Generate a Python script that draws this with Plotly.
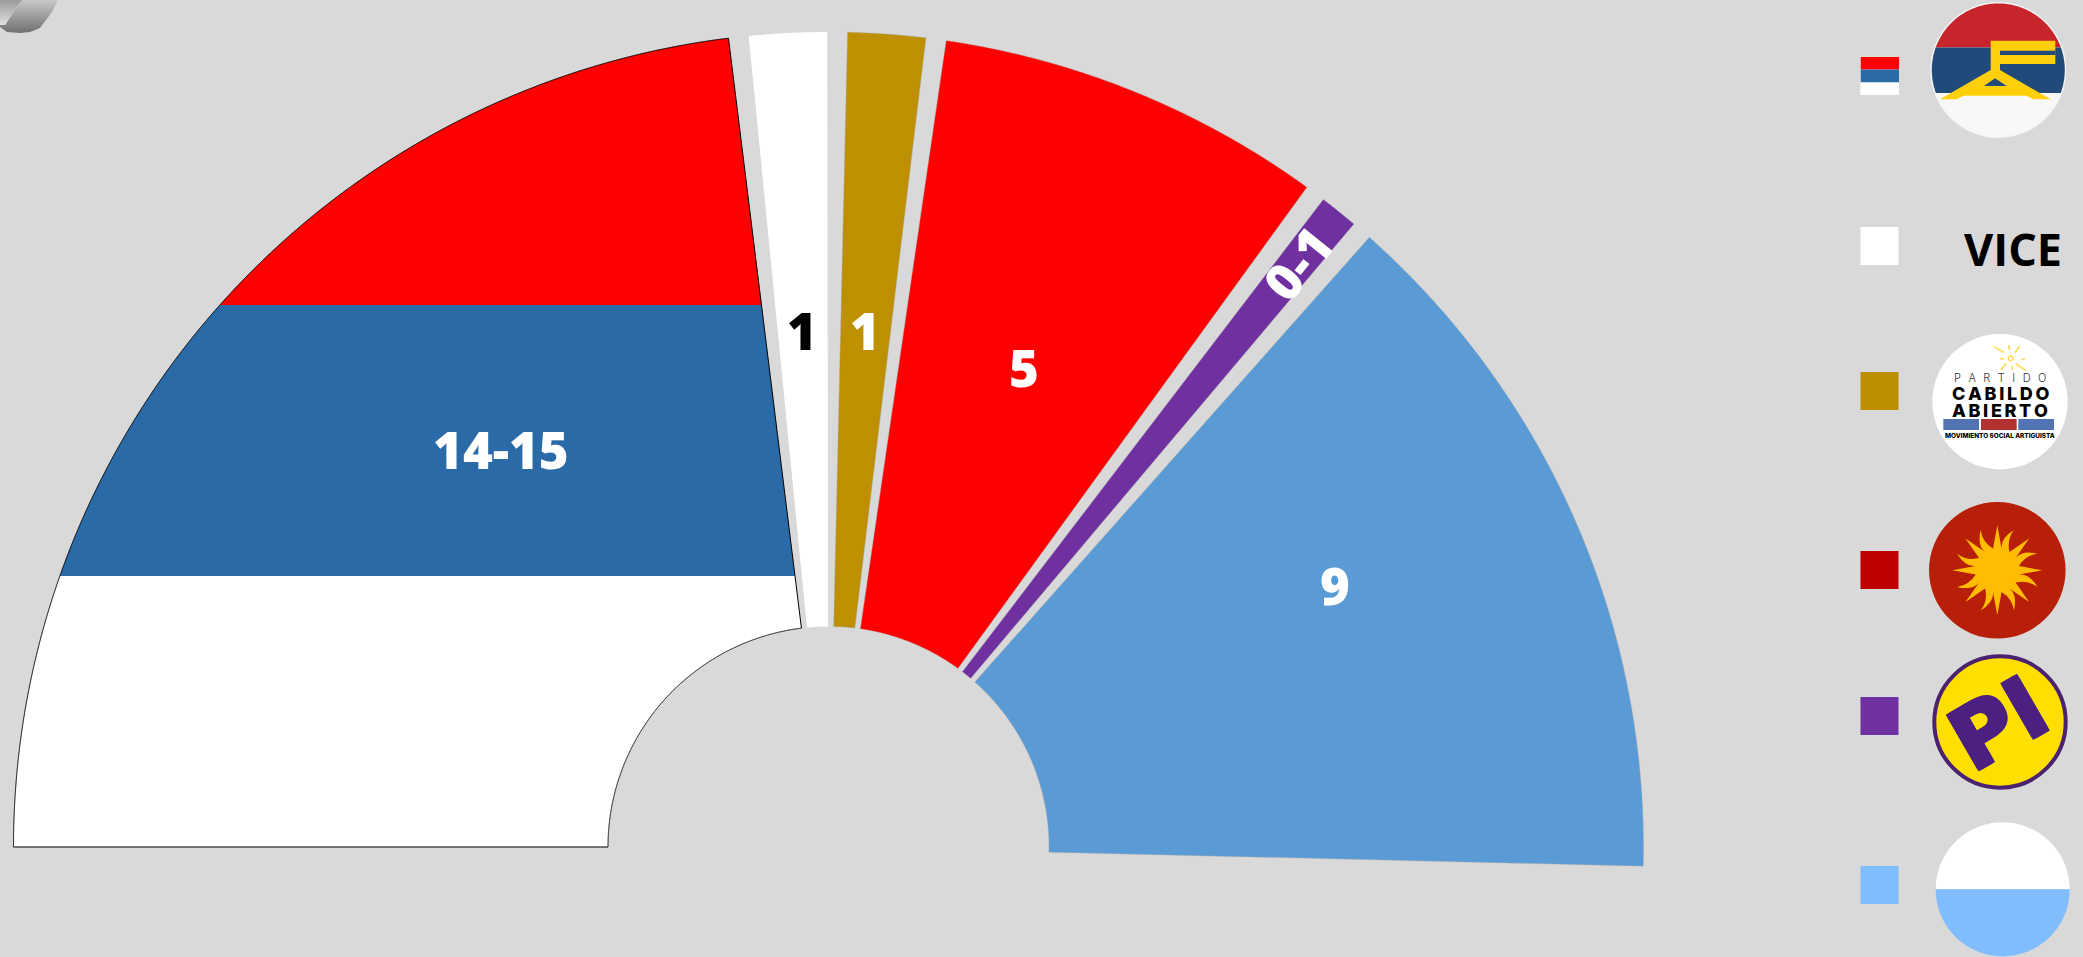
import math
import plotly.graph_objects as go

# ---------- data ----------
parties = ["Frente Amplio", "Vicepresidencia", "Cabildo Abierto", "Partido Colorado", "Partido Independiente", "Partido Nacional"]
seat_labels = ["14-15", "1", "1", "5", "0-1", "9"]
seat_spans = [15, 1, 1, 5, 0.5, 9]
wedge_colors = ["#FFFFFF", "#FFFFFF", "#BE9000", "#FF0000", "#7030A0", "#5B9BD5"]
legend_colors = ["#FFFFFF", "#FFFFFF", "#BC8F00", "#C00000", "#7030A0", "#80BDFF"]
flag_colors = ["#FFFFFF", "#2A6AA6", "#FF0000"]
label_colors = ["#FFFFFF", "#000000", "#FFFFFF", "#FFFFFF", "#FFFFFF", "#FFFFFF"]

# ---------- layout constants (pixels) ----------
W, H = 2083, 957
BG = "#D9D9D9"
CX, CY = 828.5, 847.0
R_OUT, R_IN = 815.0, 220.5
STRIPE_H = 271.0
DEG_PER_SEAT, GAP_DEG = 5.53, 1.43
LABEL_POS = [(501, 449, 0), (802, 330, 0), (865, 330, 0), (1024, 367, 0), (1297, 263, -51), (1335, 585, 0)]
SWATCH_X = 1879.5
SWATCH_Y = [76, 246, 391, 570, 716, 885]


def pt(angle, r):
    a = math.radians(angle)
    return CX - r * math.cos(a), CY - r * math.sin(a)


def wedge(a0, a1):
    n = max(8, int((a1 - a0) * 20))
    ang = [a0 + (a1 - a0) * i / n for i in range(n + 1)]
    return [pt(a, R_OUT) for a in ang] + [pt(a, R_IN) for a in reversed(ang)]


def clip(poly, y_lim, keep_above):
    out = []
    inside = (lambda p: p[1] <= y_lim) if keep_above else (lambda p: p[1] >= y_lim)
    for i, p in enumerate(poly):
        q = poly[(i + 1) % len(poly)]
        if inside(p):
            out.append(p)
        if inside(p) != inside(q):
            t = (y_lim - p[1]) / (q[1] - p[1])
            out.append((p[0] + t * (q[0] - p[0]), y_lim))
    return out


def closed(poly):
    return [p[0] for p in poly] + [poly[0][0]], [p[1] for p in poly] + [poly[0][1]]


fig = go.Figure()
start = 0.0
for i, party in enumerate(parties):
    end = start + seat_spans[i] * DEG_PER_SEAT
    poly = wedge(start, end)
    if i == 0:
        for k, col in enumerate(flag_colors):
            y_bot = CY - STRIPE_H * k
            y_top = CY - STRIPE_H * (k + 1) if k < 2 else 0
            band = clip(clip(poly, y_bot, True), y_top, False)
            xs, ys = closed(band)
            fig.add_trace(go.Scatter(x=xs, y=ys, mode="lines", fill="toself", fillcolor=col,
                                     line=dict(width=0, simplify=False), hoverinfo="text", text=party, showlegend=False))
        xs, ys = closed(poly)
        fig.add_trace(go.Scatter(x=xs, y=ys, mode="lines", line=dict(color="#000000", width=1, simplify=False),
                                 hoverinfo="skip", showlegend=False))
    else:
        xs, ys = closed(poly)
        fig.add_trace(go.Scatter(x=xs, y=ys, mode="lines", fill="toself", fillcolor=wedge_colors[i],
                                 line=dict(color="rgba(170,170,170,0.6)", width=0.7 if i != 1 else 0, simplify=False),
                                 hoverinfo="text", text=party, showlegend=False))
    start = end + GAP_DEG

# legend swatches
fig.add_trace(go.Scatter(x=[SWATCH_X] * 6, y=SWATCH_Y, mode="markers",
                         marker=dict(symbol="square", size=38, color=legend_colors, line=dict(width=0)),
                         text=parties, hoverinfo="text", showlegend=False))

# corner curl
fig.add_trace(go.Scatter(x=[58, 52, 40, 30, 20, 7, 0, 0, 5, 10, 16, 22, 58],
                         y=[0, 12, 28, 32, 33, 32, 27, 25, 25, 17, 8, 0, 0],
                         mode="lines", line=dict(width=0), fill="toself", hoverinfo="skip", showlegend=False,
                         fillgradient=dict(type="vertical", colorscale=[[0, "#707070"], [1, "#C8C8C8"]])))
fig.add_trace(go.Scatter(x=[0, 22, 16, 10, 5, 0], y=[0, 0, 8, 17, 25, 25],
                         mode="lines", line=dict(width=0), fill="toself", hoverinfo="skip", showlegend=False,
                         fillgradient=dict(type="vertical", colorscale=[[0, "#E0E0E0"], [1, "#9A9A9A"]])))

shapes = []


def circle(cx, cy, r, fill, line=None, lw=0):
    shapes.append(dict(type="circle", x0=cx - r, x1=cx + r, y0=cy - r, y1=cy + r, fillcolor=fill,
                       line=dict(color=line or fill, width=lw)))


def rect(x0, y0, x1, y1, fill):
    shapes.append(dict(type="rect", x0=x0, x1=x1, y0=y0, y1=y1, fillcolor=fill, line=dict(width=0)))


def path(d, fill, line=None, lw=0):
    shapes.append(dict(type="path", path=d, fillcolor=fill, line=dict(color=line or fill, width=lw)))


def polyd(pts):
    return "M" + " L".join(f"{x:.1f},{y:.1f}" for x, y in pts) + " Z"


def chord_seg(cx, cy, r, y0, y1):
    """Disc slice between horizontal lines y0<y1."""
    pts = []
    n = 40
    t0 = math.asin(max(-1, min(1, (y0 - cy) / r)))
    t1 = math.asin(max(-1, min(1, (y1 - cy) / r)))
    for i in range(n + 1):
        t = t0 + (t1 - t0) * i / n
        pts.append((cx + r * math.cos(t), cy + r * math.sin(t)))
    for i in range(n + 1):
        t = t1 + (t0 - t1) * i / n
        pts.append((cx - r * math.cos(t), cy + r * math.sin(t)))
    return polyd(pts)


# flag swatch
rect(1860.7, 57, 1899, 69.5, "#FF0000")
rect(1860.7, 69.5, 1899, 82.5, "#2A6AA6")
rect(1860.7, 82.5, 1899, 95, "#FFFFFF")

# logo 1 : Frente Amplio
c1x, c1y, c1r = 1998.3, 70, 66.5
circle(c1x, c1y, c1r + 1.5, "#F4F4F4")
path(chord_seg(c1x, c1y, c1r, c1y - c1r, 47.5), "#C8242B")
path(chord_seg(c1x, c1y, c1r, 47.5, 93), "#1F4A7A")
path(chord_seg(c1x, c1y, c1r, 93, c1y + c1r), "#F8F8F8")


def z1(x, y):
    return 1820 + x / 3, y / 3


fa = [(512, 122), (706, 122), (706, 192), (540, 192), (540, 210),
      (692, 298), (640, 298), (620, 287), (430, 287), (410, 298), (360, 298), (512, 210)]
path(polyd([z1(*p) for p in fa]), "#FFCF0A")
path(polyd([z1(*p) for p in [(540, 152), (706, 152), (706, 165), (540, 165)]]), "#1F4A7A")
path(polyd([z1(*p) for p in [(525, 235), (560, 258), (492, 258)]]), "#1F4A7A")

# logo 3 : Cabildo Abierto
circle(2000, 401.7, 67.7, "#FFFFFF")
rect(*z1(370, 1257), *z1(477, 1290), "#5274B4")
rect(*z1(483, 1257), *z1(590, 1290), "#B13030")
rect(*z1(595, 1257), *z1(702, 1290), "#5274B4")
circle(*z1(572, 1075), 2.3, "rgba(0,0,0,0)", "#FFD94F", 1.5)
for a, b, c, d in [(522, 1040, 553, 1058), (567, 1035, 568, 1050), (600, 1037, 585, 1058), (605, 1078, 615, 1078),
                   (588, 1092, 618, 1112), (575, 1098, 578, 1110), (558, 1090, 542, 1110), (540, 1076, 552, 1076)]:
    x0, y0 = z1(a, b)
    x1, y1 = z1(c, d)
    shapes.append(dict(type="line", x0=x0, y0=y0, x1=x1, y1=y1, line=dict(color="#FFD94F", width=1.6)))

# logo 4 : sun
c4x, c4y = 1997.3, 570.3
circle(c4x, c4y, 68.3, "#B81F08")
d = ""
for k in range(16):
    tip = math.radians(k * 22.5 - 90)
    a0 = tip - math.radians(11.25)
    a1 = tip + math.radians(11.25)
    ri = 22.0
    rt = 45.0 if k % 2 == 0 else 43.5
    p0 = (c4x + ri * math.cos(a0), c4y + ri * math.sin(a0))
    p1 = (c4x + rt * math.cos(tip), c4y + rt * math.sin(tip))
    p2 = (c4x + ri * math.cos(a1), c4y + ri * math.sin(a1))
    if k == 0:
        d += f"M{p0[0]:.1f},{p0[1]:.1f} "
    if k % 2 == 0:
        d += f"L{p1[0]:.1f},{p1[1]:.1f} L{p2[0]:.1f},{p2[1]:.1f} "
    else:
        rm = 32.0
        bend = math.radians(-9)
        m0 = (c4x + rm * math.cos(tip + bend - 0.14), c4y + rm * math.sin(tip + bend - 0.14))
        m1 = (c4x + rm * math.cos(tip + bend + 0.06), c4y + rm * math.sin(tip + bend + 0.06))
        d += (f"Q{m0[0]:.1f},{m0[1]:.1f} {p1[0]:.1f},{p1[1]:.1f} "
              f"Q{m1[0]:.1f},{m1[1]:.1f} {p2[0]:.1f},{p2[1]:.1f} ")
path(d + "Z", "#FFBC00")

# logo 5 : PI
circle(2000, 722, 65.7, "#FFDF00", "#4B2270", 4)

# logo 6 : Partido Nacional
c6x, c6y, c6r = 2002.7, 889.3, 67
path(chord_seg(c6x, c6y, c6r, c6y - c6r, c6y), "#FFFFFF")
path(chord_seg(c6x, c6y, c6r, c6y, c6y + c6r), "#80BDFF")

annotations = []


def note(x, y, text, size, color, family="Open Sans", weight=800, angle=0, anchor="center", shadow=None):
    font = dict(family=family, size=size, color=color, weight=weight)
    if shadow:
        font["shadow"] = shadow
    annotations.append(dict(x=x, y=y, text=text, showarrow=False, xanchor=anchor, yanchor="middle", textangle=angle,
                            font=font))


def halo(col, px):
    return f"{px}px {px}px 0 {col}, -{px}px {px}px 0 {col}, {px}px -{px}px 0 {col}, -{px}px -{px}px 0 {col}"


for (lx, ly, la), txt, col in zip(LABEL_POS, seat_labels, label_colors):
    note(lx, ly, txt, 51, col, angle=la)

note(2064, 248, "VICE", 45, "#000000", weight=700, anchor="right")
pi_col = "#4B2080"
note(1998, 724, "PI", 86, pi_col, family="DejaVu Sans", weight=700, angle=-30, shadow=halo(pi_col, 1.5))
hs = "\u2002\u2009"
note(2000, 378, hs.join("PARTIDO"), 11, "#333333", family="Inter", weight=300)
note(2000, 393.5, "\u2009".join("CABILDO"), 18, "#000000", family="Inter", weight=800)
note(2000, 410.7, "\u2009".join("ABIERTO"), 18, "#000000", family="Inter", weight=800)
note(2000, 436, "MOVIMIENTO SOCIAL ARTIGUISTA", 6.4, "#000000", family="Inter", weight=800)

fig.update_layout(
    width=W, height=H, autosize=False,
    margin=dict(l=0, r=0, t=0, b=0),
    paper_bgcolor=BG, plot_bgcolor=BG,
    xaxis=dict(range=[0, W], visible=False, fixedrange=True),
    yaxis=dict(range=[H, 0], visible=False, fixedrange=True),
    showlegend=False,
    shapes=shapes,
    annotations=annotations,
)
fig.write_html("out.html", config={"displayModeBar": False},
               post_script="document.body.style.margin='0';document.body.style.overflow='hidden';"
                           f"document.body.style.background='{BG}';")
